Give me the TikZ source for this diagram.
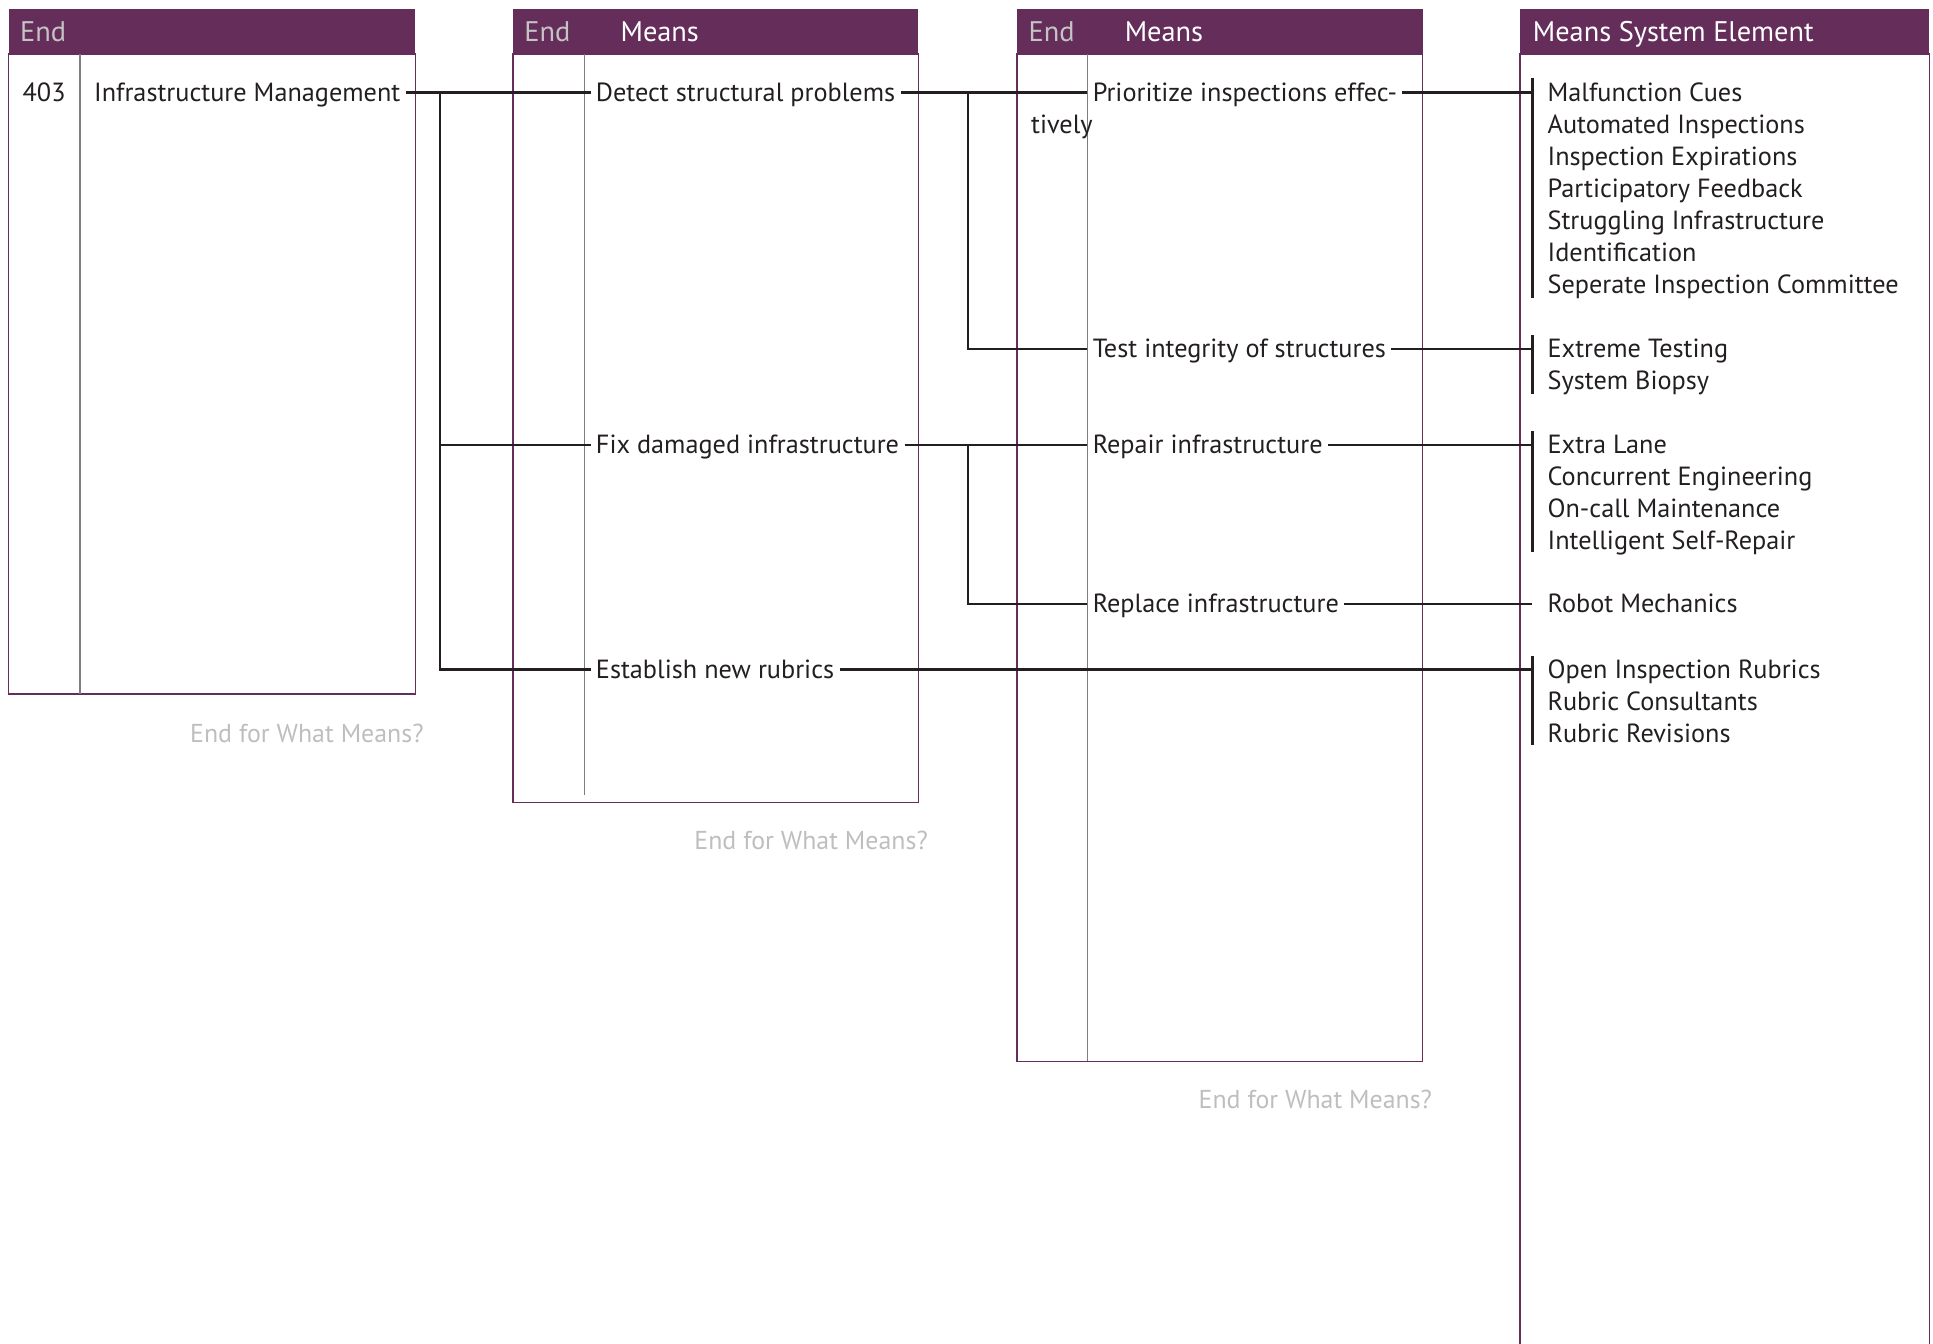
\documentclass[tikz,border=0pt]{standalone}
\usepackage{fontspec}
\setmainfont{PT Sans}
\usepackage{tikz}
\usetikzlibrary{positioning, calc}

\definecolor{plum}{RGB}{101,45,90}
\definecolor{ink}{RGB}{35,31,32}
\definecolor{headgray}{RGB}{196,196,196}
\definecolor{notegray}{RGB}{190,190,192}
\definecolor{rulegray}{RGB}{125,125,125}

\begin{document}
\begin{tikzpicture}[
  x=0.5pt, y=-0.5pt,
  font=\fontsize{10.65}{13}\selectfont,
  headbar/.style={fill=plum},
  frame/.style={draw=plum, line width=0.6pt},
  divider/.style={draw=rulegray, line width=0.6pt},
  headend/.style={anchor=west, inner sep=0pt, text height=8pt, text depth=0pt, text=headgray, font=\fontsize{11.5}{14}\selectfont},
  headmeans/.style={headend, text=white},
  entry/.style={anchor=west, inner xsep=2pt, inner ysep=0pt, text height=7pt, text depth=0pt, text=ink},
  item/.style={anchor=west, inner sep=0pt, text height=7pt, text depth=0pt, text=ink},
  note/.style={anchor=east, inner sep=0pt, text=notegray, font=\fontsize{10.5}{13}\selectfont},
  link/.style={draw=ink, line width=1pt}
]
  \useasboundingbox (0,0) rectangle (1568,1090);

  % column frames
  \fill[headbar] (7,7) rectangle (337,44);
  \draw[frame] (7,44) rectangle (337,563);
  \draw[divider] (65,44) -- (65,563);

  \fill[headbar] (416,7) rectangle (745,44);
  \draw[frame] (416,44) rectangle (745,651);
  \draw[divider] (474,44) -- (474,645);

  \fill[headbar] (825,7) rectangle (1154,44);
  \draw[frame] (825,44) rectangle (1154,861);
  \draw[divider] (882,44) -- (882,861);

  \fill[headbar] (1233,7) rectangle (1565,44);
  \draw[frame] (1233,1090) -- (1233,44) -- (1565,44) -- (1565,1090);

  % headers
  \node[headend] (endA) at (16,26) {End};
  \node[headend] (endB) at (425,26) {End};
  \node[headmeans] (meansB) at (503,26) {Means};
  \node[headend] (endC) at (834,26) {End};
  \node[headmeans] (meansC) at (912,26) {Means};
  \node[headmeans] (meansD) at (1243,26) {Means System Element};

  % ends and means
  \node[item] (num) at (18,75) {403};
  \node[entry] (infra) at (72,75) {Infrastructure Management};

  \node[entry] (detect) at (479,75) {Detect structural problems};
  \node[entry] (fix) at (479,361) {Fix damaged infrastructure};
  \node[entry] (rubric) at (479,543) {Establish new rubrics};

  \node[entry] (prior) at (882,75) {Prioritize inspections effec-};
  \node[item] (tively) at (836,101) {tively};
  \node[entry] (test) at (882,283) {Test integrity of structures};
  \node[entry] (repair) at (882,361) {Repair infrastructure};
  \node[entry] (replace) at (882,490) {Replace infrastructure};

  % system elements
  \foreach \txt [count=\i from 0] in {Malfunction Cues, Automated Inspections, Inspection Expirations,
      Participatory Feedback, Struggling Infrastructure, Identification, Seperate Inspection Committee}
    \node[item] (cues\i) at (1255,75+26*\i) {\txt};
  \foreach \txt [count=\i from 0] in {Extreme Testing, System Biopsy}
    \node[item] (tests\i) at (1255,283+26*\i) {\txt};
  \foreach \txt [count=\i from 0] in {Extra Lane, Concurrent Engineering, On-call Maintenance, Intelligent Self-Repair}
    \node[item] (lanes\i) at (1255,361+26*\i) {\txt};
  \node[item] (robot) at (1255,490) {Robot Mechanics};
  \foreach \txt [count=\i from 0] in {Open Inspection Rubrics, Rubric Consultants, Rubric Revisions}
    \node[item] (rubrics\i) at (1255,543+26*\i) {\txt};

  % brackets
  \draw[link] (1243,63) -- (1243,242);
  \draw[link] (1243,272) -- (1243,320);
  \draw[link] (1243,350) -- (1243,448);
  \draw[link] (1243,532) -- (1243,604);
  \coordinate (cuesjoin) at (1243,75);
  \coordinate (testsjoin) at (1243,283);
  \coordinate (lanesjoin) at (1243,361);
  \coordinate (robotjoin) at (1243,490);
  \coordinate (rubricsjoin) at (1243,543);

  % end for what means
  \node[note] (noteA) at (344,595) {End for What Means?};
  \node[note] (noteB) at (753,682) {End for What Means?};
  \node[note] (noteC) at (1162,892) {End for What Means?};

  % connectors
  \coordinate (forkA) at (357,75);
  \draw[link] (infra) -- (detect);
  \draw[link] (forkA) |- (fix);
  \draw[link] (forkA) |- (rubric);

  \coordinate (forkB) at (785,75);
  \draw[link] (detect) -- (prior);
  \draw[link] (forkB) |- (test);
  \coordinate (forkC) at (785,361);
  \draw[link] (fix) -- (repair);
  \draw[link] (forkC) |- (replace);

  \draw[link] (prior) -- (cuesjoin);
  \draw[link] (test) -- (testsjoin);
  \draw[link] (repair) -- (lanesjoin);
  \draw[link] (replace) -- (robotjoin);
  \draw[link] (rubric) -- (rubricsjoin);
\end{tikzpicture}
\end{document}
